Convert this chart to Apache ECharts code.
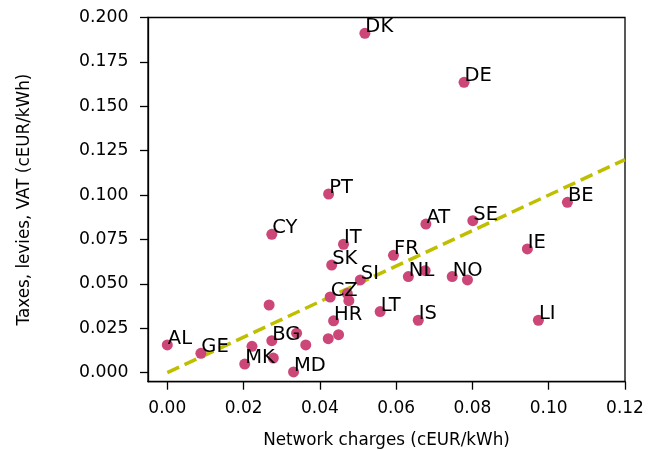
<!DOCTYPE html>
<html>
<head>
<meta charset="utf-8">
<script src="https://cdn.jsdelivr.net/npm/echarts@6/dist/echarts.min.js"></script>
<style>html,body{margin:0;padding:0;background:#fff;}#c{width:659px;height:450px;}</style>
</head>
<body>
<div id="c"></div>
<script>
// Country codes ('' = unlabeled point)
const codes = ['AL','GE','MK','','BG','','','CY','','','MD','PT','IT','SK','SI','CZ','','','HR','','','LT','FR','NL','','AT','SE','NO','','IS','IE','LI','BE','DK','DE'];
// Network charges (cEUR/kWh)
const networkCharges = [0.0000,0.0088,0.0203,0.0222,0.0274,0.0278,0.0267,0.0274,0.0339,0.0363,0.0331,0.0423,0.0462,0.0431,0.0506,0.0427,0.0472,0.0476,0.0436,0.0422,0.0449,0.0558,0.0593,0.0632,0.0676,0.0678,0.0801,0.0747,0.0787,0.0658,0.0944,0.0973,0.1049,0.0518,0.0778];
// Taxes, levies, VAT (cEUR/kWh)
const taxes = [0.0156,0.0109,0.0048,0.0148,0.0180,0.0082,0.0381,0.0779,0.0222,0.0156,0.0004,0.1006,0.0723,0.0606,0.0522,0.0426,0.0445,0.0405,0.0292,0.0191,0.0214,0.0344,0.0661,0.0541,0.0574,0.0837,0.0856,0.0541,0.0522,0.0295,0.0697,0.0295,0.0959,0.1911,0.1635];
// Trend line (y = x)
const trendX = [0, 0.12];
const trendY = [0, 0.12];
// Tick labels
const xTicks = [0, 0.02, 0.04, 0.06, 0.08, 0.10, 0.12];
const yTicks = [0, 0.025, 0.05, 0.075, 0.1, 0.125, 0.15, 0.175, 0.2];

const pts = networkCharges.map((x, i) => [x, taxes[i], codes[i]]);
const trend = trendX.map((x, i) => [x, trendY[i]]);

const font = 'DejaVu Sans';
const chart = echarts.init(document.getElementById('c'), null, {renderer: 'canvas'});
chart.setOption({
  backgroundColor: '#fff',
  animation: false,
  grid: {left: 148, right: 34, top: 17.5, bottom: 68.3, containLabel: false, outerBoundsMode: 'none', show: true, borderColor: '#000', borderWidth: 1.3, backgroundColor: 'transparent'},
  xAxis: {
    type: 'value', min: -0.00506, max: 0.12,
    name: 'Network charges (cEUR/kWh)', nameLocation: 'middle', nameGap: 50,
    nameTextStyle: {fontFamily: font, fontSize: 16.8, color: '#000'},
    axisLine: {show: true, onZero: false, lineStyle: {color: '#000', width: 1.3}},
    axisTick: {show: true, length: 8, customValues: xTicks, lineStyle: {color: '#000', width: 1.3}},
    axisLabel: {customValues: xTicks, margin: 18, fontFamily: font, fontSize: 17, color: '#000', formatter: v => v.toFixed(2)},
    splitLine: {show: false}
  },
  yAxis: {
    type: 'value', min: -0.0051, max: 0.2,
    name: 'Taxes, levies, VAT (cEUR/kWh)', nameLocation: 'middle', nameGap: 115,
    nameTextStyle: {fontFamily: font, fontSize: 16.8, color: '#000'},
    axisLine: {show: true, onZero: false, lineStyle: {color: '#000', width: 1.3}},
    axisTick: {show: true, length: 8, customValues: yTicks, lineStyle: {color: '#000', width: 1.3}},
    axisLabel: {customValues: yTicks, margin: 19.5, fontFamily: font, fontSize: 17.3, color: '#000', formatter: v => v.toFixed(3)},
    splitLine: {show: false}
  },
  series: [
    {
      type: 'line', data: trend, symbol: 'none', z: 1,
      lineStyle: {color: '#bfbf00', width: 3.5, type: [13, 6]}
    },
    {
      type: 'scatter', data: pts, symbolSize: 11, z: 2,
      itemStyle: {color: '#cc4778', opacity: 1},
      label: {
        show: true, position: [6, 9.5], align: 'left', verticalAlign: 'bottom',
        fontFamily: font, fontSize: 19.5, color: '#000',
        formatter: p => p.data[2]
      },
      labelLayout: {hideOverlap: false}
    }
  ]
});
</script>
</body>
</html>
